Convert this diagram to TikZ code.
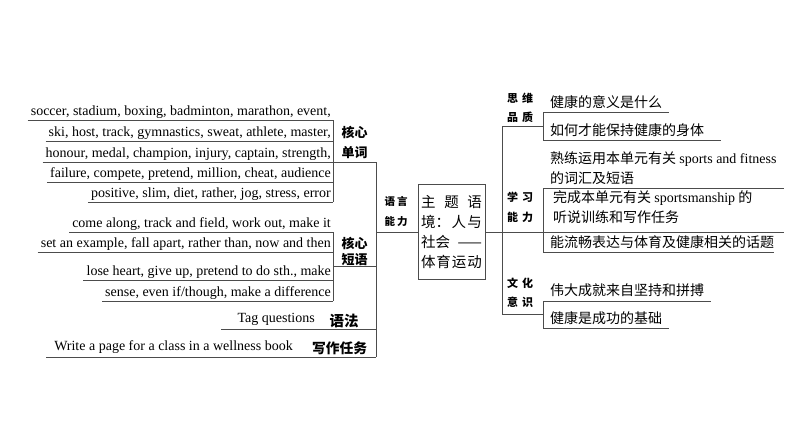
\documentclass[tikz,border=0pt]{standalone}
\usepackage{fontspec}
\setmainfont{Liberation Serif}
\newfontfamily\cjk{Noto Sans CJK SC}
\usetikzlibrary{calc}
\tikzset{>=stealth}
\tikzset{
  en/.style={font=\fontsize{14}{16}\selectfont, anchor=south east, inner xsep=3pt, inner ysep=4.5pt, text depth=0pt},
  zh/.style={font=\cjk\fontsize{14}{20}\selectfont, anchor=south west, inner xsep=7pt, inner ysep=4pt, text depth=0pt, align=left},
  tag/.style={font=\cjk\bfseries\fontsize{13}{20}\selectfont, inner sep=0pt, align=center},
  mini/.style={font=\cjk\bfseries\fontsize{11}{19.5}\selectfont, inner sep=0pt, align=center},
  rule/.style={line width=0.6pt, draw=black!70}
}

\begin{document}
\begin{tikzpicture}[x=1pt, y=-1pt]
\useasboundingbox (0,0) rectangle (794,447);
\coordinate (LB) at (333,0);
\coordinate (LM) at (376,0);
\coordinate (RM) at (502,0);
\coordinate (RB) at (543,0);

\node[draw=black!70, line width=0.6pt, minimum width=67pt, minimum height=95pt, inner sep=0pt, font=\cjk\fontsize{14.5}{20}\selectfont, align=center] (topic) at (451.5,232)
  {\makebox[61pt][s]{主\hfill 题\hfill 语}\\\makebox[61pt][s]{境：\hfill 人\hfill 与}\\\makebox[61pt][s]{社会\hfill ——}\\\makebox[61pt][s]{体\hfill 育\hfill 运\hfill 动}};
\node[mini, font=\cjk\bfseries\fontsize{10.5}{19.5}\selectfont] (lang) at (396,211.5) {语\hspace{2pt}言\\能\hspace{2pt}力};

\node[en] (w1) at (334,120) {soccer, stadium, boxing, badminton, marathon, event,};
\node[en] (w2) at (334,141) {ski, host, track, gymnastics, sweat, athlete, master,};
\node[en] (w3) at (334,162) {honour, medal, champion, injury, captain, strength,};
\node[en] (w4) at (334,182) {failure, compete, pretend, million, cheat, audience};
\node[en] (w5) at (334,202) {positive, slim, diet, rather, jog, stress, error};
\node[tag] (k1) at (354.5,142) {核心\\单词};

\node[en] (p1) at (334,232) {come along, track and field, work out, make it};
\node[en] (p2) at (334,252) {set an example, fall apart, rather than, now and then};
\node[en] (p3) at (334,280) {lose heart, give up, pretend to do sth., make};
\node[en] (p4) at (334,301) {sense, even if/though, make a difference};
\node[tag, font=\cjk\bfseries\fontsize{13}{16}\selectfont] (k2) at (354.5,251) {核心\\短语};

\node[en, inner ysep=6pt] (tq) at (318,329) {Tag questions};
\node[tag, font=\cjk\bfseries\fontsize{14.5}{16}\selectfont] (g1) at (344,321) {语法};
\node[en, inner ysep=6pt] (wp) at (296,357) {Write a page for a class in a wellness book};
\node[tag, font=\cjk\bfseries\fontsize{13.75}{16}\selectfont] (g2) at (339.5,348.5) {写作任务};

\draw[rule] (w1.south west) -- (w1.south west -| LB);
\draw[rule] (w2.south west) -- (w2.south west -| LB);
\draw[rule] (w3.south west) -- (w3.south west -| LM);
\draw[rule] (w4.south west) -- (w4.south west -| LB);
\draw[rule] (w5.south west) -- (w5.south west -| LB);
\draw[rule] (w1.south west -| LB) -- (w5.south west -| LB);
\draw[rule] (p1.south west) -- (p1.south west -| LB);
\draw[rule] (p2.south west) -- (p2.south west -| LB);
\draw[rule] (p3.south west) -- (p3.south west -| LB);
\draw[rule] (p4.south west) -- (p4.south west -| LB);
\draw[rule] (p1.south west -| LB) -- (p4.south west -| LB);
\coordinate (m2) at ($(p2.south west -| LB)!0.5!(p3.south west -| LB)$);
\draw[rule] (m2) -- (m2 -| LM);
\draw[rule] ([xshift=-13pt]tq.south west) -- (tq.south west -| LM);
\draw[rule] ([xshift=-5pt]wp.south west) -- (wp.south west -| LM);
\draw[rule] (w3.south west -| LM) -- (wp.south west -| LM);
\draw[rule] (topic.west -| LM) -- (topic.west);

\node[zh] (a1) at (543,112) {健康的意义是什么};
\node[zh] (a2) at (543,140) {如何才能保持健康的身体};
\node[zh] (b1) at (543,188) {熟练运用本单元有关 {\rmfamily sports and fitness}\\的词汇及短语};
\node[zh, inner ysep=9pt] (b2) at (546,232) {完成本单元有关 {\rmfamily sportsmanship} 的\\听说训练和写作任务};
\node[zh] (b3) at (543,252) {能流畅表达与体育及健康相关的话题};
\node[zh, inner ysep=5.5pt] (c1) at (543,301) {伟大成就来自坚持和拼搏};
\node[zh] (c2) at (543,328) {健康是成功的基础};
\node[mini] (s1) at (520,108) {思\hspace{4pt}维\\品\hspace{4pt}质};
\node[mini] (s2) at (520,207.5) {学\hspace{4pt}习\\能\hspace{4pt}力};
\node[mini] (s3) at (520,292.5) {文\hspace{4pt}化\\意\hspace{4pt}识};

\draw[rule] (topic.east) -- (topic.east -| b1.south east);
\draw[rule] (a1.south west) -- (a1.south east);
\draw[rule] (a2.south west) -- ([xshift=10pt]a2.south east);
\draw[rule] (a1.south west) -- (a2.south west);
\draw[rule] (b1.south west) -- (b1.south east);
\draw[rule] (b3.south west) -- ([xshift=-7pt]b3.south east);
\draw[rule] (b1.south west) -- (b3.south west);
\draw[rule] (c1.south west) -- (c1.south east);
\draw[rule] (c2.south west) -- (c2.south east);
\draw[rule] (c1.south west) -- (c2.south west);
\coordinate (q1) at ($(a1.south west)!0.5!(a2.south west)$);
\coordinate (q3) at ($(c1.south west)!0.5!(c2.south west)$);
\draw[rule] (q1) -- (q1 -| RM) -- (q3 -| RM) -- (q3);
\end{tikzpicture}
\end{document}
